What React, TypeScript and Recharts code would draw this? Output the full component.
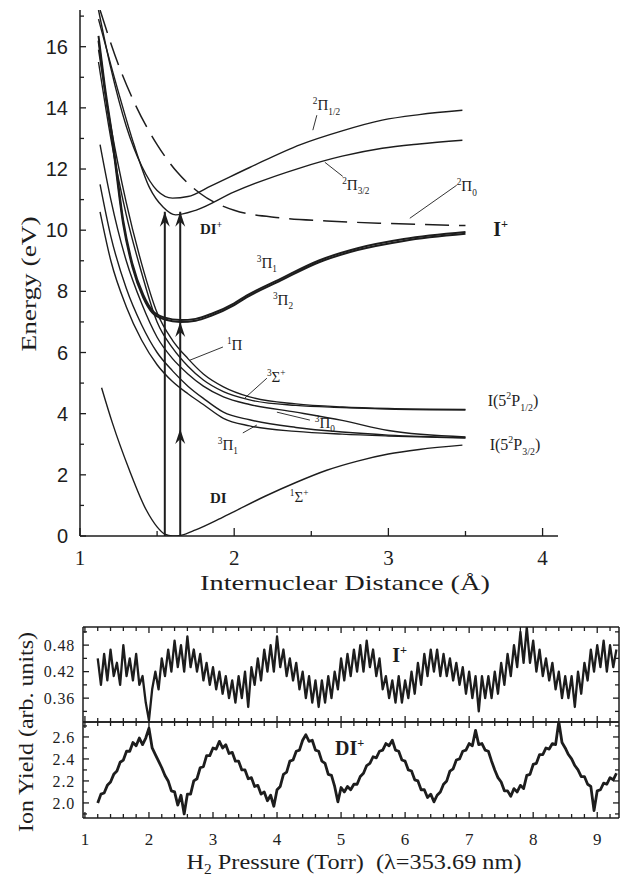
import React from "react";
import {
  ComposedChart,
  LineChart,
  Line,
  Scatter,
  XAxis,
  YAxis,
  ReferenceDot,
  ReferenceLine,
} from "recharts";

const INK = "#1d1d1d";
const SERIF = '"Liberation Serif", "DejaVu Serif", serif';
const SANS = '"Liberation Sans", "DejaVu Sans", sans-serif';

type Pt = { r: number; e: number };
const pts = (a: number[][]): Pt[] => a.map(([r, e]) => ({ r, e }));

// ---- potential curves, R (Å) vs E (eV) ----
const groundState = pts([
  [1.14, 4.85], [1.21, 3.7], [1.32, 2.16], [1.43, 0.85], [1.5, 0.3], [1.55, 0.06],
  [1.6, 0], [1.66, 0.03], [1.75, 0.2], [1.9, 0.55], [2.0, 0.8], [2.2, 1.3],
  [2.4, 1.75], [2.6, 2.15], [2.8, 2.45], [3.0, 2.68], [3.2, 2.83], [3.48, 2.97],
]);
const pi1Lower = pts([
  [1.13, 10.6], [1.2, 9.0], [1.3, 7.5], [1.4, 6.4], [1.5, 5.6], [1.6, 5.05], [1.7, 4.65],
  [1.8, 4.3], [1.93, 3.85], [2.1, 3.6], [2.4, 3.42], [2.7, 3.33], [3.0, 3.27], [3.5, 3.2],
]);
const pi0Minus = pts([
  [1.13, 11.5], [1.2, 9.8], [1.3, 8.1], [1.4, 6.9], [1.5, 6.0], [1.6, 5.4], [1.7, 4.9],
  [1.8, 4.5], [1.93, 4.05], [2.1, 3.8], [2.4, 3.55], [2.7, 3.4], [3.0, 3.3], [3.5, 3.22],
]);
const pi0Curve = pts([
  [1.13, 12.8], [1.2, 11.0], [1.3, 9.0], [1.4, 7.6], [1.5, 6.5], [1.6, 5.8], [1.7, 5.3],
  [1.8, 4.9], [1.93, 4.55], [2.1, 4.3], [2.4, 4.05], [2.7, 3.78], [3.0, 3.45], [3.5, 3.24],
]);
const singletPi = pts([
  [1.12, 15.5], [1.2, 13.0], [1.3, 10.5], [1.4, 8.6], [1.5, 7.0], [1.6, 6.15], [1.7, 5.55],
  [1.8, 5.1], [1.93, 4.72], [2.1, 4.45], [2.4, 4.27], [2.7, 4.2], [3.0, 4.15], [3.5, 4.12],
]);
const tripletSigma = pts([
  [1.12, 15.9], [1.2, 13.4], [1.3, 10.9], [1.4, 8.9], [1.5, 7.3], [1.6, 6.4], [1.7, 5.8],
  [1.8, 5.3], [1.93, 4.88], [2.1, 4.55], [2.4, 4.32], [2.7, 4.22], [3.0, 4.17], [3.5, 4.14],
]);
const boundPi1 = pts([
  [1.12, 16.2], [1.16, 14.6], [1.21, 12.9], [1.28, 10.2], [1.34, 8.8], [1.41, 7.8],
  [1.47, 7.3], [1.55, 7.08], [1.65, 7.0], [1.75, 7.04], [1.85, 7.2], [2.0, 7.55],
  [2.08, 7.8], [2.3, 8.35], [2.55, 8.95], [2.8, 9.35], [3.1, 9.65], [3.5, 9.88],
]);
const boundPi2 = pts([
  [1.12, 16.35], [1.16, 14.75], [1.21, 13.05], [1.28, 10.33], [1.34, 8.9], [1.41, 7.89],
  [1.47, 7.37], [1.55, 7.14], [1.65, 7.06], [1.75, 7.1], [1.85, 7.26], [2.0, 7.61],
  [2.08, 7.86], [2.3, 8.41], [2.55, 9.01], [2.8, 9.41], [3.1, 9.71], [3.5, 9.94],
]);
const ionUpper = pts([
  [1.12, 17.2], [1.2, 15.3], [1.3, 13.4], [1.4, 12.1], [1.5, 11.3], [1.6, 11.05],
  [1.7, 11.1], [1.85, 11.45], [2.1, 12.05], [2.43, 12.8], [2.7, 13.25], [2.96, 13.6],
  [3.2, 13.78], [3.48, 13.92],
]);
const ionLower = pts([
  [1.12, 16.9], [1.25, 14.5], [1.35, 12.8], [1.45, 11.4], [1.54, 10.75], [1.62, 10.5],
  [1.75, 10.65], [2.0, 11.25], [2.43, 12.04], [2.7, 12.42], [2.96, 12.68], [3.2, 12.82],
  [3.48, 12.94],
]);
const ionRepulsive = pts([
  [1.13, 17.2], [1.25, 15.4], [1.35, 14.2], [1.5, 12.8], [1.63, 11.9], [1.78, 11.2],
  [2.0, 10.65], [2.3, 10.4], [2.6, 10.3], [3.0, 10.22], [3.5, 10.15],
]);
const arrowLeft = pts([[1.55, 0], [1.55, 10.6]]);
const arrowRight = pts([[1.65, 0], [1.65, 10.6]]);
const arrowHeads = pts([[1.55, 10.6], [1.65, 10.6], [1.65, 7.0], [1.65, 3.5]]);

const rTicks = [1, 1.5, 2, 2.5, 3, 3.5, 4];
const rLabels = [1, 2, 3, 4];
const eTicks = [0, 1, 2, 3, 4, 5, 6, 7, 8, 9, 10, 11, 12, 13, 14, 15, 16, 17];
const eLabels = [0, 2, 4, 6, 8, 10, 12, 14, 16];

// ---- ion yield traces vs H2 pressure (Torr), sampled every 0.05 Torr from 1.2 ----
const pressureStart = 1.2;
const pressureStep = 0.05;
const iPlusYield = [
  0.45, 0.39, 0.46, 0.40, 0.47, 0.41, 0.44, 0.39, 0.48, 0.41,
  0.45, 0.40, 0.46, 0.39, 0.41, 0.35, 0.31, 0.38, 0.42, 0.38,
  0.45, 0.41, 0.47, 0.42, 0.49, 0.43, 0.48, 0.42, 0.50, 0.43,
  0.47, 0.42, 0.46, 0.40, 0.44, 0.39, 0.43, 0.38, 0.42, 0.37,
  0.41, 0.36, 0.40, 0.35, 0.41, 0.36, 0.42, 0.34, 0.43, 0.39,
  0.45, 0.40, 0.47, 0.42, 0.48, 0.42, 0.50, 0.43, 0.47, 0.41,
  0.45, 0.40, 0.44, 0.38, 0.42, 0.36, 0.41, 0.35, 0.40, 0.34,
  0.40, 0.35, 0.41, 0.36, 0.42, 0.38, 0.45, 0.40, 0.46, 0.41,
  0.47, 0.42, 0.48, 0.42, 0.49, 0.43, 0.47, 0.41, 0.45, 0.38,
  0.41, 0.36, 0.40, 0.35, 0.41, 0.35, 0.40, 0.36, 0.42, 0.37,
  0.44, 0.39, 0.46, 0.41, 0.47, 0.42, 0.47, 0.41, 0.46, 0.41,
  0.45, 0.40, 0.44, 0.39, 0.43, 0.37, 0.42, 0.36, 0.41, 0.33,
  0.41, 0.36, 0.41, 0.36, 0.42, 0.37, 0.44, 0.39, 0.46, 0.41,
  0.48, 0.43, 0.51, 0.44, 0.52, 0.44, 0.49, 0.42, 0.47, 0.41,
  0.45, 0.40, 0.44, 0.38, 0.42, 0.36, 0.41, 0.36, 0.41, 0.34,
  0.42, 0.37, 0.44, 0.40, 0.47, 0.42, 0.48, 0.43, 0.49, 0.42,
  0.48, 0.43, 0.47,
];
const diPlusYield = [
  2.00, 2.08, 2.09, 2.16, 2.19, 2.26, 2.29, 2.37, 2.39, 2.47,
  2.47, 2.55, 2.52, 2.59, 2.53, 2.59, 2.68, 2.50, 2.44, 2.38,
  2.32, 2.25, 2.20, 2.11, 2.10, 1.98, 2.07, 1.90, 2.08, 2.08,
  2.20, 2.22, 2.32, 2.33, 2.43, 2.43, 2.50, 2.49, 2.56, 2.50,
  2.53, 2.45, 2.46, 2.38, 2.38, 2.30, 2.30, 2.22, 2.23, 2.15,
  2.16, 2.08, 2.10, 2.02, 2.07, 1.97, 2.12, 2.15, 2.26, 2.28,
  2.38, 2.39, 2.47, 2.48, 2.57, 2.62, 2.56, 2.57, 2.48, 2.47,
  2.38, 2.36, 2.26, 2.25, 2.15, 2.01, 2.14, 2.10, 2.15, 2.12,
  2.17, 2.17, 2.24, 2.27, 2.34, 2.36, 2.42, 2.41, 2.47, 2.48,
  2.54, 2.52, 2.57, 2.48, 2.47, 2.39, 2.38, 2.30, 2.29, 2.21,
  2.20, 2.12, 2.12, 2.05, 2.08, 2.01, 2.07, 2.10, 2.17, 2.20,
  2.29, 2.31, 2.39, 2.40, 2.47, 2.48, 2.54, 2.52, 2.66, 2.53,
  2.54, 2.48, 2.47, 2.38, 2.30, 2.23, 2.19, 2.11, 2.11, 2.06,
  2.13, 2.10, 2.16, 2.13, 2.25, 2.26, 2.35, 2.36, 2.44, 2.44,
  2.50, 2.49, 2.54, 2.53, 2.74, 2.55, 2.50, 2.44, 2.40, 2.34,
  2.30, 2.24, 2.24, 2.17, 2.15, 1.93, 2.11, 2.12, 2.18, 2.17,
  2.23, 2.21, 2.27,
];
const pTicks = [
  1, 1.2, 1.4, 1.6, 1.8, 2, 2.2, 2.4, 2.6, 2.8, 3, 3.2, 3.4, 3.6, 3.8, 4, 4.2, 4.4, 4.6, 4.8,
  5, 5.2, 5.4, 5.6, 5.8, 6, 6.2, 6.4, 6.6, 6.8, 7, 7.2, 7.4, 7.6, 7.8, 8, 8.2, 8.4, 8.6, 8.8,
  9, 9.2,
];
const pLabels = [1, 2, 3, 4, 5, 6, 7, 8, 9];
const iTicks = [0.33, 0.36, 0.39, 0.42, 0.45, 0.48, 0.51];
const iLabels = [0.36, 0.42, 0.48];
const diTicks = [1.9, 2.0, 2.1, 2.2, 2.3, 2.4, 2.5, 2.6, 2.7];
const diLabels = [2.0, 2.2, 2.4, 2.6];

const yieldRows = iPlusYield.map((v, i) => ({
  p: +(pressureStart + i * pressureStep).toFixed(2),
  iPlus: v,
  diPlus: diPlusYield[i],
}));

// ---- annotations ----
type Part = [string, string];
const potentialLabels: { r: number; e: number; parts: Part[]; size?: number; bold?: boolean }[] = [
  { r: 2.51, e: 13.92, parts: [["sup", "2"], ["n", "Π"], ["sub", "1/2"]] },
  { r: 2.7, e: 11.31, parts: [["sup", "2"], ["n", "Π"], ["sub", "3/2"]] },
  { r: 3.443, e: 11.27, parts: [["sup", "2"], ["n", "Π"], ["sub", "0"]] },
  { r: 2.147, e: 8.76, parts: [["sup", "3"], ["n", "Π"], ["sub", "1"]] },
  { r: 2.251, e: 7.55, parts: [["sup", "3"], ["n", "Π"], ["sub", "2"]] },
  { r: 1.953, e: 6.08, parts: [["sup", "1"], ["n", "Π"]] },
  { r: 2.212, e: 5.03, parts: [["sup", "3"], ["n", "Σ"], ["sup", "+"]] },
  { r: 2.523, e: 3.53, parts: [["sup", "3"], ["n", "Π"], ["sub", "0"]] },
  { r: 1.894, e: 2.81, parts: [["sup", "3"], ["n", "Π"], ["sub", "1"]] },
  { r: 2.361, e: 1.11, parts: [["sup", "1"], ["n", "Σ"], ["sup", "+"]] },
  { r: 1.778, e: 9.87, parts: [["n", "DI"], ["sup", "+"]], bold: true },
  { r: 3.68, e: 9.8, parts: [["n", "I"], ["sup", "+"]], bold: true, size: 20 },
  { r: 1.843, e: 1.08, parts: [["n", "DI"]], bold: true },
  { r: 3.644, e: 4.25, parts: [["n", "I(5"], ["sup", "2"], ["n", "P"], ["sub", "1/2"], ["n", ")"]], size: 16 },
  { r: 3.657, e: 2.81, parts: [["n", "I(5"], ["sup", "2"], ["n", "P"], ["sub", "3/2"], ["n", ")"]], size: 16 },
];
const leaders = [
  [[2.51, 13.27], [2.536, 13.76]],
  [[2.588, 12.22], [2.704, 11.76]],
  [[3.139, 10.39], [3.443, 11.47]],
  [[1.713, 5.75], [1.927, 6.18]],
  [[2.069, 4.51], [2.212, 5.16]],
  [[2.277, 4.05], [2.491, 3.79]],
  [[2.056, 3.37], [2.147, 3.63]],
];

function Rich({ x, y, parts, size = 15, bold = false }: { x: number; y: number; parts: Part[]; size?: number; bold?: boolean }) {
  let shift = 0;
  const kids = parts.map(([k, t], i) => {
    const target = k === "sup" ? -0.42 * size : k === "sub" ? 0.28 * size : 0;
    const dy = target - shift;
    shift = target;
    return (
      <tspan key={i} dy={dy} fontSize={k === "n" ? size : size * 0.62}>
        {t}
      </tspan>
    );
  });
  return (
    <text x={x} y={y} fontFamily={SERIF} fontSize={size} fontWeight={bold ? 700 : 400} fill={INK}>
      {kids}
    </text>
  );
}

const near = (list: number[], v: number) => list.some((l) => Math.abs(l - v) < 1e-6);

type TickOpts = {
  side: "left" | "right" | "top" | "bottom";
  majors: number[];
  major: number;
  minor: number;
  labels?: boolean;
  fmt?: (v: number) => string;
  font?: string;
  size?: number;
  gap?: number;
  spacing?: number;
};

function makeTick(o: TickOpts) {
  return (p: any) => {
    const v = Number(p.payload.value);
    const on = near(o.majors, v);
    const len = on ? o.major : o.minor;
    const x = p.x;
    const y = p.y;
    let l: number[];
    if (o.side === "left") l = [x, y, x + len, y];
    else if (o.side === "right") l = [x, y, x - len, y];
    else if (o.side === "top") l = [x, y, x, y + len];
    else l = [x, y, x, y - len];
    let label = null;
    if (on && o.labels) {
      const txt = o.fmt ? o.fmt(v) : String(v);
      label =
        o.side === "left" ? (
          <text x={x - (o.gap ?? 8)} y={y} dy="0.35em" textAnchor="end" fontFamily={o.font} fontSize={o.size} fill={INK} letterSpacing={o.spacing ?? 0}>
            {txt}
          </text>
        ) : (
          <text x={x} y={y + (o.gap ?? 20)} textAnchor="middle" fontFamily={o.font} fontSize={o.size} fill={INK}>
            {txt}
          </text>
        );
    }
    return (
      <g>
        <line x1={l[0]} y1={l[1]} x2={l[2]} y2={l[3]} stroke={INK} strokeWidth={1.3} />
        {label}
      </g>
    );
  };
}

const ArrowHead = (p: any) => (
  <path
    d={`M${p.cx},${p.cy} L${p.cx - 5},${p.cy + 15} L${p.cx},${p.cy + 10} L${p.cx + 5},${p.cy + 15} Z`}
    fill={INK}
  />
);

const axisStyle = { stroke: INK, strokeWidth: 1.5 };

function PotentialChart() {
  const thin = [groundState, pi1Lower, pi0Minus, pi0Curve, singletPi, tripletSigma, ionUpper, ionLower];
  return (
    <ComposedChart width={621} height={600} margin={{ top: 10, right: 63, bottom: 24, left: 20 }}>
      <XAxis
        type="number"
        dataKey="r"
        domain={[1, 4.1]}
        ticks={rTicks}
        interval={0}
        tickSize={0}
        tickMargin={0}
        height={40}
        allowDataOverflow
        axisLine={axisStyle}
        tickLine={false}
        tick={makeTick({ side: "bottom", majors: rLabels, major: 8, minor: 5, labels: true, font: SERIF, size: 21, gap: 29 })}
      />
      <YAxis
        type="number"
        dataKey="e"
        domain={[0, 17.2]}
        ticks={eTicks}
        interval={0}
        tickSize={0}
        tickMargin={0}
        width={60}
        allowDataOverflow
        axisLine={axisStyle}
        tickLine={false}
        tick={makeTick({ side: "left", majors: eLabels, major: 6, minor: 4, labels: true, font: SANS, size: 20, gap: 12 })}
      />
      {thin.map((d, i) => (
        <Line key={`c${i}`} data={d} dataKey="e" type="monotone" stroke={INK} strokeWidth={1.4} dot={false} isAnimationActive={false} />
      ))}
      <Line data={boundPi1} dataKey="e" type="monotone" stroke={INK} strokeWidth={2} dot={false} isAnimationActive={false} />
      <Line data={boundPi2} dataKey="e" type="monotone" stroke={INK} strokeWidth={2} dot={false} isAnimationActive={false} />
      <Line data={ionRepulsive} dataKey="e" type="monotone" stroke={INK} strokeWidth={1.5} strokeDasharray="24 10" dot={false} isAnimationActive={false} />
      <Line data={arrowLeft} dataKey="e" type="linear" stroke={INK} strokeWidth={2} dot={false} isAnimationActive={false} />
      <Line data={arrowRight} dataKey="e" type="linear" stroke={INK} strokeWidth={2} dot={false} isAnimationActive={false} />
      <Scatter data={arrowHeads} dataKey="e" shape={ArrowHead} isAnimationActive={false} />
      {leaders.map((s, i) => (
        <ReferenceLine
          key={`l${i}`}
          segment={[{ x: s[0][0], y: s[0][1] }, { x: s[1][0], y: s[1][1] }]}
          stroke={INK}
          strokeWidth={0.9}
          ifOverflow="visible"
        />
      ))}
      {potentialLabels.map((a, i) => (
        <ReferenceDot
          key={`t${i}`}
          x={a.r}
          y={a.e}
          r={0}
          ifOverflow="visible"
          shape={(p: any) => <Rich x={p.cx} y={p.cy} parts={a.parts} size={a.size ?? 15} bold={a.bold} />}
        />
      ))}
    </ComposedChart>
  );
}

type PanelProps = {
  dataKey: string;
  domain: [number, number];
  yTicks: number[];
  yLabels: number[];
  height: number;
  margin: { top: number; right: number; bottom: number; left: number };
  bottomHeight: number;
  showX: boolean;
  traceWidth: number;
  note: { p: number; v: number; parts: Part[] };
};

function YieldPanel(pp: PanelProps) {
  return (
    <LineChart width={621} height={pp.height} data={yieldRows} margin={pp.margin}>
      <XAxis
        xAxisId="t"
        orientation="top"
        type="number"
        dataKey="p"
        domain={[0.97, 9.34]}
        ticks={pTicks}
        interval={0}
        tickSize={0}
        tickMargin={0}
        height={1}
        allowDataOverflow
        axisLine={axisStyle}
        tickLine={false}
        tick={makeTick({ side: "top", majors: pLabels, major: 6, minor: 4 })}
      />
      <XAxis
        xAxisId="b"
        orientation="bottom"
        type="number"
        dataKey="p"
        domain={[0.97, 9.34]}
        ticks={pTicks}
        interval={0}
        tickSize={0}
        tickMargin={0}
        height={pp.bottomHeight}
        allowDataOverflow
        axisLine={axisStyle}
        tickLine={false}
        tick={makeTick({ side: "bottom", majors: pLabels, major: 6, minor: 4, labels: pp.showX, font: SERIF, size: 17, gap: 27 })}
      />
      <YAxis
        yAxisId="l"
        type="number"
        domain={pp.domain}
        ticks={pp.yTicks}
        interval={0}
        tickSize={0}
        tickMargin={0}
        width={50}
        allowDataOverflow
        axisLine={axisStyle}
        tickLine={false}
        tick={makeTick({ side: "left", majors: pp.yLabels, major: 6, minor: 4, labels: true, font: SERIF, size: 16, gap: 8, spacing: 0.8, fmt: (v) => (pp.dataKey === "iPlus" ? v.toFixed(2) : v.toFixed(1)) })}
      />
      <YAxis
        yAxisId="r"
        orientation="right"
        type="number"
        domain={pp.domain}
        ticks={pp.yTicks}
        interval={0}
        tickSize={0}
        tickMargin={0}
        width={1}
        allowDataOverflow
        axisLine={axisStyle}
        tickLine={false}
        tick={makeTick({ side: "right", majors: pp.yLabels, major: 6, minor: 4 })}
      />
      <Line xAxisId="b" yAxisId="l" dataKey={pp.dataKey} type="linear" stroke={INK} strokeWidth={pp.traceWidth} strokeLinejoin="round" dot={false} isAnimationActive={false} />
      <ReferenceDot
        xAxisId="b"
        yAxisId="l"
        x={pp.note.p}
        y={pp.note.v}
        r={0}
        ifOverflow="visible"
        shape={(p: any) => <Rich x={p.cx} y={p.cy} parts={pp.note.parts} size={20} bold />}
      />
    </LineChart>
  );
}

export default function App() {
  return (
    <div style={{ position: "relative", width: 621, height: 877, background: "#fff", fontFamily: SERIF, overflow: "hidden" }}>
      <style>{"body{margin:0}"}</style>
      <div style={{ position: "absolute", left: 0, top: 0 }}>
        <PotentialChart />
      </div>
      <div style={{ position: "absolute", left: 0, top: 600 }}>
        <YieldPanel
          dataKey="iPlus"
          domain={[0.306, 0.521]}
          yTicks={iTicks}
          yLabels={iLabels}
          height={130}
          margin={{ top: 26, right: 1, bottom: 7, left: 33 }}
          bottomHeight={1}
          showX={false}
          traceWidth={2.3}
          note={{ p: 5.8, v: 0.4415, parts: [["n", "I"], ["sup", "+"]] }}
        />
      </div>
      <div style={{ position: "absolute", left: 0, top: 700 }}>
        <YieldPanel
          dataKey="diPlus"
          domain={[1.863, 2.736]}
          yTicks={diTicks}
          yLabels={diLabels}
          height={160}
          margin={{ top: 21, right: 1, bottom: 12, left: 33 }}
          bottomHeight={30}
          showX
          traceWidth={2.8}
          note={{ p: 4.906, v: 2.436, parts: [["n", "DI"], ["sup", "+"]] }}
        />
      </div>
      <svg width={621} height={877} style={{ position: "absolute", left: 0, top: 0, pointerEvents: "none" }}>
        <text transform="translate(36,284) rotate(-90)" textAnchor="middle" fontFamily={SERIF} fontSize={22} fill={INK} textLength={135} lengthAdjust="spacingAndGlyphs">
          Energy (eV)
        </text>
        <text x={345} y={590} textAnchor="middle" fontFamily={SERIF} fontSize={22} fill={INK} textLength={290} lengthAdjust="spacingAndGlyphs">
          Internuclear Distance (Å)
        </text>
        <text transform="translate(33,732) rotate(-90)" textAnchor="middle" fontFamily={SERIF} fontSize={21} fill={INK} textLength={200} lengthAdjust="spacingAndGlyphs">
          Ion Yield (arb. units)
        </text>
        <text x={354} y={869} textAnchor="middle" fontFamily={SERIF} fontSize={22} fill={INK} textLength={335} lengthAdjust="spacingAndGlyphs">
          H<tspan dy={5} fontSize={14}>2</tspan>
          <tspan dy={-5}>{" Pressure (Torr)\u00a0\u00a0(λ=353.69 nm)"}</tspan>
        </text>
      </svg>
    </div>
  );
}
